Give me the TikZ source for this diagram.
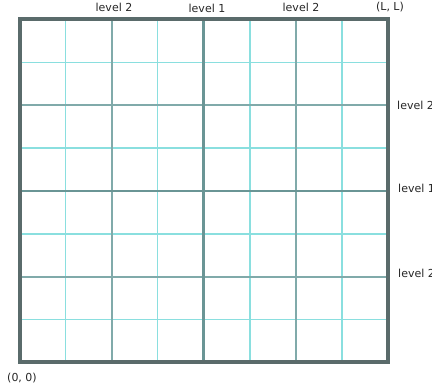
\documentclass[tikz,border=0pt]{standalone}
\usepackage{fontspec}
\setmainfont{DejaVu Sans}
\definecolor{borderc}{HTML}{5A6B6B}
\definecolor{lvlone}{HTML}{6A9595}
\definecolor{lvltwo}{HTML}{80AAAA}
\definecolor{lvlthree}{HTML}{8ADFDF}
\begin{document}
\begin{tikzpicture}[x=1pt,y=-1pt,
  lab/.style={font=\fontsize{11}{13}\selectfont, text=black!85, inner sep=0pt},
  l3/.style={draw=lvlthree, line width=1.4pt},
  l2/.style={draw=lvltwo, line width=2.2pt},
  l1/.style={draw=lvlone, line width=2.8pt},
  bd/.style={draw=borderc, line width=4pt}]
\useasboundingbox (0,0) rectangle (432,387);
\def\xa{19.5}\def\xb{388}\def\ya{19.5}\def\yb{362.5}
% level 3 lines
\foreach \i in {1,3,5,7}{
  \draw[l3] ({\xa+\i*(\xb-\xa)/8},\ya) -- ({\xa+\i*(\xb-\xa)/8},\yb);
  \draw[l3] (\xa,{\ya+\i*(\yb-\ya)/8}) -- (\xb,{\ya+\i*(\yb-\ya)/8});
}
% level 2 lines
\foreach \i in {2,6}{
  \draw[l2] ({\xa+\i*(\xb-\xa)/8},\ya) -- ({\xa+\i*(\xb-\xa)/8},\yb);
  \draw[l2] (\xa,{\ya+\i*(\yb-\ya)/8}) -- (\xb,{\ya+\i*(\yb-\ya)/8});
}
% level 1 lines
\draw[l1] ({(\xa+\xb)/2},\ya) -- ({(\xa+\xb)/2},\yb);
\draw[l1] (\xa,{(\ya+\yb)/2}) -- (\xb,{(\ya+\yb)/2});
% border
\draw[bd] (\xa,\ya) rectangle (\xb,\yb);
% labels
\node[lab] (t2a) at (114,7) {level 2};
\node[lab] (t1) at (207,8) {level 1};
\node[lab] (t2b) at (301,7) {level 2};
\node[lab] (tLL) at (390,7) {(L, L)};
\node[lab, anchor=west] (r2a) at (397,105) {level 2};
\node[lab, anchor=west] (r1) at (398,188) {level 1};
\node[lab, anchor=west] (r2b) at (398,273) {level 2};
\node[lab] (o) at (22,378) {(0, 0)};
\end{tikzpicture}
\end{document}
